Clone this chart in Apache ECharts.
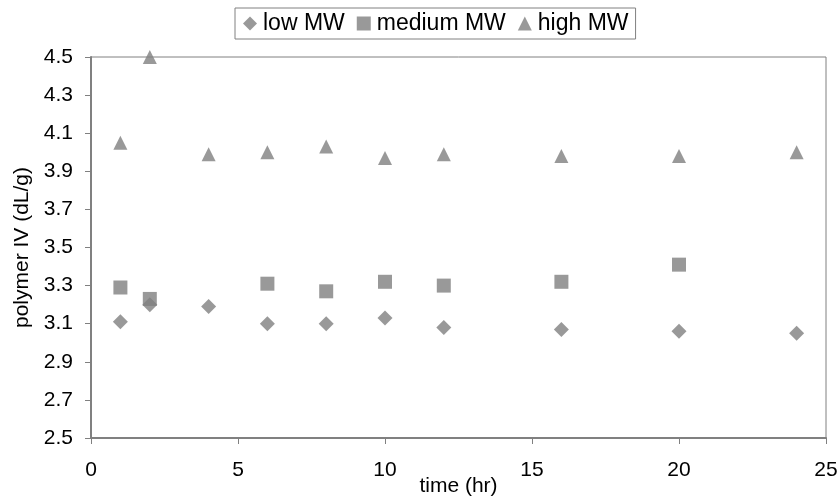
<!DOCTYPE html>
<html>
<head>
<meta charset="utf-8">
<script src="https://cdn.jsdelivr.net/npm/echarts@6/dist/echarts.min.js"></script>
<style>
html,body{margin:0;padding:0;background:#fff;}
#chart{width:839px;height:500px;}
</style>
</head>
<body>
<div id="chart"></div>
<script>
var lowTime = [1, 2, 4, 6, 8, 10, 12, 16, 20, 24];
var lowMW = [3.11, 3.20, 3.19, 3.10, 3.10, 3.13, 3.08, 3.07, 3.06, 3.05];
var medTime = [1, 2, 6, 8, 10, 12, 16, 20];
var mediumMW = [3.29, 3.23, 3.31, 3.27, 3.32, 3.30, 3.32, 3.41];
var highTime = [1, 2, 4, 6, 8, 10, 12, 16, 20, 24];
var highMW = [4.05, 4.50, 3.99, 4.00, 4.03, 3.97, 3.99, 3.98, 3.98, 4.00];
var yTicks = [2.5, 2.7, 2.9, 3.1, 3.3, 3.5, 3.7, 3.9, 4.1, 4.3, 4.5];
var xTicks = [0, 5, 10, 15, 20, 25];
var seriesNames = ['low MW', 'medium MW', 'high MW'];

function pairs(xs, ys) { return xs.map(function (x, i) { return [x, ys[i]]; }); }

var FONT = 'Liberation Sans, Arial, sans-serif';
var GRAY = '#808080';
var chart = echarts.init(document.getElementById('chart'), null, {renderer: 'canvas'});
chart.setOption({
  animation: false,
  backgroundColor: '#fff',
  textStyle: {fontFamily: FONT},
  legend: {
    top: 8,
    left: 235,
    data: seriesNames,
    borderColor: GRAY,
    borderWidth: 1,
    padding: [4, 7, 4, 8],
    itemWidth: 14,
    itemHeight: 14,
    itemGap: 12,
    textStyle: {fontSize: 23, color: '#000', fontFamily: FONT, padding: [0, 0, 0, 1]}
  },
  grid: {
    left: 91, right: 13, top: 57, bottom: 62,
    outerBoundsMode: 'none', containLabel: false,
    show: true, borderColor: GRAY, borderWidth: 1, backgroundColor: '#fff'
  },
  xAxis: {
    type: 'value', min: 0, max: 25, interval: 5,
    name: 'time (hr)', nameLocation: 'middle', nameGap: 38, nameMoveOverlap: false,
    nameTextStyle: {fontSize: 21, color: '#000', fontFamily: FONT},
    axisLine: {onZero: false, lineStyle: {color: GRAY, width: 2}},
    axisTick: {show: true, length: 6, lineStyle: {color: GRAY, width: 1}, customValues: xTicks},
    axisLabel: {fontSize: 21, color: '#000', margin: 22, fontFamily: FONT, customValues: xTicks},
    splitLine: {show: false}
  },
  yAxis: {
    type: 'value', min: 2.5, max: 4.5,
    name: 'polymer IV (dL/g)', nameLocation: 'middle', nameGap: 58, nameRotate: 90, nameMoveOverlap: false,
    nameTextStyle: {fontSize: 21, color: '#000', fontFamily: FONT},
    axisLine: {show: true, onZero: false, lineStyle: {color: GRAY, width: 2}},
    axisTick: {show: true, length: 6, lineStyle: {color: GRAY, width: 1}, customValues: yTicks},
    axisLabel: {fontSize: 21, color: '#000', margin: 18, fontFamily: FONT, customValues: yTicks,
      formatter: function (v) { return v.toFixed(1); }},
    splitLine: {show: false}
  },
  series: [
    {name: seriesNames[0], type: 'scatter', symbol: 'diamond', symbolSize: 15,
      itemStyle: {color: GRAY}, data: pairs(lowTime, lowMW), z: 2},
    {name: seriesNames[1], type: 'scatter', symbol: 'rect', symbolSize: 14,
      itemStyle: {color: GRAY}, data: pairs(medTime, mediumMW), z: 3},
    {name: seriesNames[2], type: 'scatter', symbol: 'triangle', symbolSize: 14,
      itemStyle: {color: GRAY}, data: pairs(highTime, highMW), z: 3}
  ]
});
</script>
</body>
</html>
